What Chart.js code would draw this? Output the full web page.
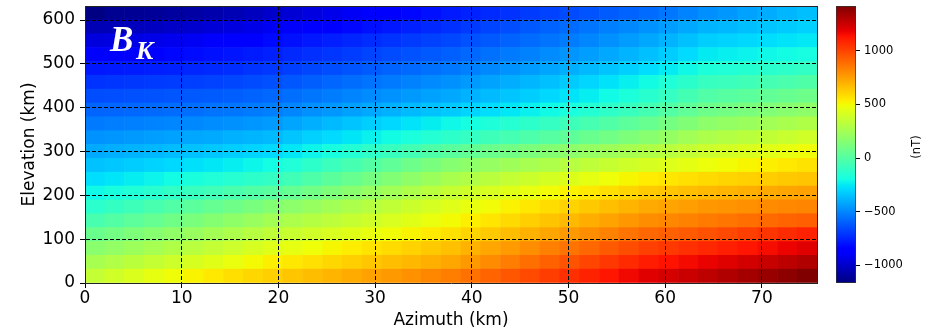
<!DOCTYPE html>
<html>
<head>
<meta charset="utf-8">
<script src="https://cdn.jsdelivr.net/npm/chart.js@4.4.1/dist/chart.umd.min.js"></script>
<style>
  html, body { margin: 0; padding: 0; background: #fff; }
  #wrap { position: relative; width: 937px; height: 334px; overflow: hidden; }
  #mainBox { position: absolute; left: 0; top: 0; width: 830px; height: 334px; }
  #cbBox { position: absolute; left: 820px; top: 0; width: 117px; height: 334px; }
</style>
</head>
<body>
<div id="wrap">
  <div id="mainBox"><canvas id="main"></canvas></div>
  <div id="cbBox"><canvas id="cbar"></canvas></div>
</div>
<script>
// ---- data ----
const azimuthCentersKm = [1.02, 3.07, 5.11, 7.16, 9.21, 11.25, 13.30, 15.35, 17.39, 19.44, 21.48, 23.53, 25.58, 27.62, 29.67, 31.71, 33.76, 35.80, 37.85, 39.90, 41.94, 43.99, 46.03, 48.08, 50.13, 52.17, 54.22, 56.26, 58.31, 60.36, 62.40, 64.45, 66.49, 68.54, 70.59, 72.63, 74.68];
const elevationEdgesKm = [0, 31.6, 63.2, 94.8, 126.4, 158, 189.6, 221.2, 252.8, 284.4, 316, 347.6, 379.2, 410.8, 442.4, 474, 505.6, 537.2, 568.8, 600.4, 632];
const xTickMax = 75.7;
const yTickMax = 632;
const cbarMin = -1165;
const cbarMax = 1418;
const cbarTicks = [-1000, -500, 0, 500, 1000];

// B_K in nT, one array per elevation row (row00 = lowest)
const row00 = [350,390,425,460,490,520,548,575,598,620,644,669,693,718,742,766,791,815,840,876,912,948,984,1020,1056,1092,1128,1164,1200,1227,1253,1280,1308,1335,1363,1390,1418];
const row01 = [265,294,324,353,383,412,442,471,501,530,552,574,597,619,641,663,686,708,730,768,806,844,882,920,958,996,1034,1072,1110,1133,1157,1180,1206,1232,1258,1284,1310];
const row02 = [170,200,230,260,290,320,350,380,410,440,464,489,513,538,562,587,611,636,660,695,730,765,800,835,870,905,940,975,1010,1033,1057,1080,1104,1128,1152,1176,1200];
const row03 = [70,100,130,160,190,220,250,280,310,340,366,391,417,442,468,494,519,545,570,603,636,669,702,735,768,801,834,867,900,920,940,960,987,1014,1041,1068,1095];
const row04 = [-35,-3,28,60,92,123,155,187,218,250,278,306,333,361,389,417,444,472,500,530,560,590,620,650,680,710,740,770,800,817,833,850,865,881,896,912,927];
const row05 = [-130,-99,-68,-37,-6,26,57,88,119,150,182,214,247,279,311,343,376,408,440,468,496,524,552,580,608,636,664,692,720,737,753,770,781,792,802,813,824];
const row06 = [-210,-184,-159,-133,-108,-82,-56,-31,-5,20,58,96,133,171,209,247,284,322,360,387,414,441,468,495,522,549,576,603,630,647,663,680,693,706,720,733,746];
const row07 = [-280,-262,-243,-223,-202,-181,-161,-141,-120,-100,-59,-18,23,64,104,145,186,227,268,295,322,350,377,404,431,458,486,513,540,557,573,590,602,613,625,636,648];
const row08 = [-350,-337,-323,-308,-292,-275,-258,-239,-220,-200,-160,-120,-80,-40,0,40,80,120,160,185,210,235,260,285,310,335,360,385,410,433,457,480,497,514,532,549,566];
const row09 = [-410,-400,-389,-377,-364,-350,-336,-321,-306,-290,-256,-221,-187,-152,-118,-84,-49,-15,20,47,74,101,128,155,182,209,236,263,290,320,350,380,402,424,446,468,490];
const row10 = [-470,-462,-453,-443,-432,-420,-408,-395,-383,-370,-342,-314,-287,-259,-231,-203,-176,-148,-120,-95,-70,-45,-20,5,35,65,95,130,165,205,245,280,302,324,346,368,390];
const row11 = [-530,-524,-518,-511,-503,-494,-484,-474,-462,-450,-424,-398,-372,-346,-320,-294,-267,-241,-215,-192,-168,-144,-120,-94,-67,-38,-6,28,64,103,142,180,202,224,246,268,290];
const row12 = [-590,-585,-580,-574,-567,-560,-552,-543,-532,-520,-499,-478,-457,-436,-415,-394,-372,-351,-330,-306,-282,-258,-234,-208,-180,-150,-117,-83,-46,-3,40,80,101,122,143,164,185];
const row13 = [-650,-645,-640,-634,-627,-620,-612,-603,-592,-580,-562,-543,-525,-507,-488,-470,-452,-433,-415,-392,-368,-344,-320,-295,-268,-239,-207,-173,-137,-95,-52,-10,8,26,44,62,80];
const row14 = [-715,-710,-704,-698,-691,-683,-674,-664,-652,-640,-622,-603,-585,-567,-548,-530,-512,-493,-475,-452,-428,-404,-380,-355,-328,-300,-270,-238,-203,-165,-128,-90,-75,-60,-45,-30,-15];
const row15 = [-785,-779,-773,-766,-758,-749,-739,-727,-714,-700,-682,-664,-647,-629,-611,-593,-576,-558,-540,-518,-495,-472,-449,-425,-400,-373,-345,-315,-283,-248,-212,-175,-161,-147,-133,-119,-105];
const row16 = [-865,-858,-850,-841,-830,-818,-805,-791,-776,-760,-742,-724,-707,-689,-671,-653,-636,-618,-600,-578,-556,-534,-512,-489,-465,-440,-414,-386,-356,-322,-287,-250,-238,-226,-214,-202,-190];
const row17 = [-955,-948,-940,-930,-918,-903,-887,-868,-845,-820,-802,-784,-767,-749,-731,-713,-696,-678,-660,-638,-616,-594,-572,-549,-525,-500,-474,-447,-418,-386,-354,-320,-307,-294,-281,-268,-255];
const row18 = [-1045,-1037,-1028,-1018,-1005,-990,-973,-953,-932,-910,-889,-868,-847,-826,-805,-784,-762,-741,-720,-695,-670,-645,-620,-595,-570,-545,-520,-495,-470,-443,-417,-390,-375,-359,-344,-328,-313];
const row19 = [-1160,-1125,-1118,-1110,-1098,-1082,-1065,-1045,-1023,-1000,-976,-951,-927,-902,-878,-854,-829,-805,-780,-759,-738,-717,-696,-675,-654,-633,-612,-591,-570,-540,-510,-480,-456,-431,-407,-382,-358];
const bKRows = [row00,row01,row02,row03,row04,row05,row06,row07,row08,row09,row10,row11,row12,row13,row14,row15,row16,row17,row18,row19];

// ---- jet colormap ----
const jetR = [[0,0],[0.35,0],[0.66,1],[0.89,1],[1,0.5]];
const jetG = [[0,0],[0.125,0],[0.375,1],[0.64,1],[0.91,0],[1,0]];
const jetB = [[0,0.5],[0.11,1],[0.34,1],[0.65,0],[1,0]];
function seg(pts, t) {
  for (let i = 1; i < pts.length; i++) {
    if (t <= pts[i][0]) {
      const [x0, y0] = pts[i-1], [x1, y1] = pts[i];
      return y0 + (y1 - y0) * (t - x0) / (x1 - x0);
    }
  }
  return pts[pts.length-1][1];
}
function jet(t) {
  t = Math.max(0, Math.min(1, t));
  const r = Math.round(255 * seg(jetR, t)), g = Math.round(255 * seg(jetG, t)), b = Math.round(255 * seg(jetB, t));
  return `rgb(${r},${g},${b})`;
}
function colorOf(v) { return jet((v - cbarMin) / (cbarMax - cbarMin)); }

Chart.defaults.font.family = '"DejaVu Sans", sans-serif';
Chart.defaults.color = '#000';

// ---- main heatmap ----
const datasets = bKRows.map((row, r) => ({
  data: row.map((v, c) => ({ x: azimuthCentersKm[c], y: [elevationEdgesKm[r], elevationEdgesKm[r+1]] })),
  backgroundColor: row.map(colorOf),
  borderWidth: 0,
  grouped: false,
  barPercentage: 1,
  categoryPercentage: 1
}));

const bkLabel = {
  id: 'bkLabel',
  afterDatasetsDraw(chart) {
    const ctx = chart.ctx;
    ctx.save();
    ctx.fillStyle = '#fff';
    ctx.textBaseline = 'alphabetic';
    ctx.textAlign = 'left';
    ctx.font = 'italic bold 35px "Liberation Serif", serif';
    ctx.fillText('B', 110, 51);
    ctx.font = 'italic bold 26px "Liberation Serif", serif';
    ctx.fillText('K', 136, 59);
    ctx.restore();
  }
};

const noPadV = s => { s.paddingTop = 0; s.paddingBottom = 0; };
const noPadH = s => { s.paddingLeft = 0; s.paddingRight = 0; };

new Chart(document.getElementById('main'), {
  type: 'bar',
  data: { datasets },
  plugins: [bkLabel],
  options: {
    responsive: true,
    maintainAspectRatio: false,
    animation: false,
    layout: { padding: { left: 0, right: 13, top: 6, bottom: 0 } },
    plugins: { legend: { display: false }, tooltip: { enabled: false } },
    scales: {
      x: {
        type: 'linear', position: 'bottom', min: 0, max: xTickMax, offset: false,
        grid: { offset: false, color: '#000', lineWidth: 1, z: 1, drawTicks: true, tickLength: 5, tickColor: '#000', tickWidth: 1, tickBorderDash: [] },
        border: { display: true, color: '#222', width: 1, dash: [4, 2], z: 2 },
        ticks: { stepSize: 10, includeBounds: false, autoSkip: false, maxRotation: 0, padding: 0, font: { size: 17 }, color: '#000' },
        title: { display: true, text: 'Azimuth (km)', font: { size: 17 }, color: '#000', padding: { top: 0, bottom: 3 } },
        afterBuildTicks: s => { s.ticks = [0, 10, 20, 30, 40, 50, 60, 70].map(v => ({ value: v })); },
        afterFit: s => { s.height = 51; noPadH(s); }
      },
      y: {
        type: 'linear', position: 'left', min: 0, max: yTickMax,
        grid: { color: '#000', lineWidth: 1, z: 1, drawTicks: true, tickLength: 5, tickColor: '#000', tickWidth: 1, tickBorderDash: [] },
        border: { display: true, color: '#222', width: 1, dash: [4, 2], z: 2 },
        ticks: { stepSize: 100, includeBounds: false, autoSkip: false, padding: 5, font: { size: 17 }, color: '#000' },
        title: { display: true, text: 'Elevation (km)', font: { size: 17 }, color: '#000', padding: { top: 19, bottom: 0 } },
        afterBuildTicks: s => { s.ticks = [0, 100, 200, 300, 400, 500, 600].map(v => ({ value: v })); },
        afterFit: s => { s.width = 85; noPadV(s); }
      },
      xTop: {
        type: 'linear', position: 'top', min: 0, max: 1,
        grid: { display: false }, ticks: { display: false },
        border: { display: true, color: '#222', width: 1, z: 2 },
        afterFit: s => { s.height = 0; noPadH(s); }
      },
      yRight: {
        type: 'linear', position: 'right', min: 0, max: 1,
        grid: { display: false }, ticks: { display: false },
        border: { display: true, color: '#222', width: 1, z: 2 },
        afterFit: s => { s.width = 0; noPadV(s); }
      }
    }
  }
});

// ---- colorbar ----
const jetStops = [0, 0.11, 0.125, 0.34, 0.35, 0.375, 0.64, 0.65, 0.66, 0.89, 0.91, 1];
const unitLabel = {
  id: 'unitLabel',
  afterDraw(chart) {
    const ctx = chart.ctx;
    ctx.save();
    ctx.translate(97, 147);
    ctx.rotate(-Math.PI / 2);
    ctx.fillStyle = '#000';
    ctx.font = '11.5px "DejaVu Sans", sans-serif';
    ctx.textAlign = 'center';
    ctx.textBaseline = 'middle';
    ctx.fillText('(nT)', 0, 0);
    ctx.restore();
  }
};
new Chart(document.getElementById('cbar'), {
  type: 'bar',
  data: {
    labels: ['B_K'],
    datasets: [{
      data: [[cbarMin, cbarMax]],
      backgroundColor: (c) => {
        const area = c.chart.chartArea;
        if (!area) return '#888';
        const g = c.chart.ctx.createLinearGradient(0, area.bottom, 0, area.top);
        jetStops.forEach(t => g.addColorStop(t, jet(t)));
        return g;
      },
      borderColor: '#333',
      borderWidth: 1,
      borderSkipped: false,
      barPercentage: 1,
      categoryPercentage: 1
    }]
  },
  plugins: [unitLabel],
  options: {
    responsive: true,
    maintainAspectRatio: false,
    animation: false,
    layout: { padding: { left: 16, right: 0, top: 6, bottom: 51 } },
    plugins: { legend: { display: false }, tooltip: { enabled: false } },
    scales: {
      x: { display: false },
      y: {
        type: 'linear', position: 'right', min: cbarMin, max: cbarMax,
        grid: { drawOnChartArea: false, drawTicks: true, tickLength: 4, tickColor: '#000', tickWidth: 1 },
        border: { display: false },
        ticks: {
          autoSkip: false, padding: 4, font: { size: 11.5 }, color: '#000',
          callback: v => (v < 0 ? '\u2212' + Math.abs(v) : String(v))
        },
        afterBuildTicks: s => { s.ticks = cbarTicks.map(v => ({ value: v })); },
        afterFit: s => { s.width = 81; noPadV(s); }
      }
    }
  }
});
</script>
</body>
</html>
